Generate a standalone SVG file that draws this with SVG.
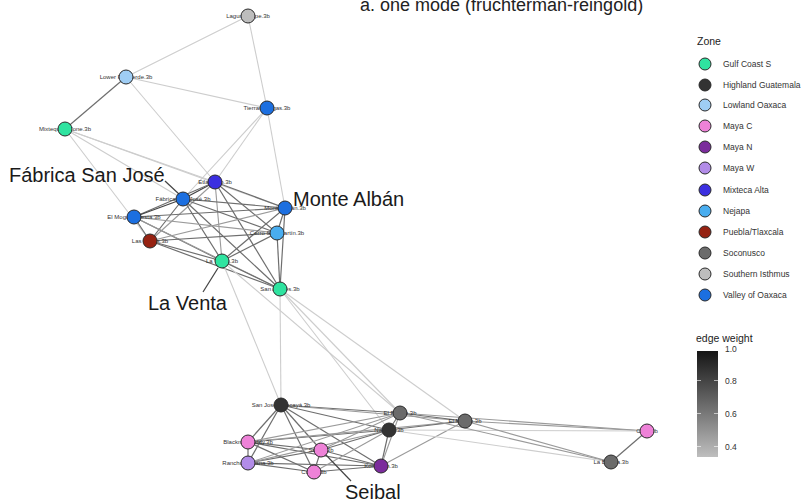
<svg xmlns="http://www.w3.org/2000/svg" width="806" height="504" viewBox="0 0 806 504">
<style>
  text { font-family: "Liberation Sans", Arial, sans-serif; fill: #222; }
  .title { font-size: 18px; }
  .call { font-size: 20px; fill: #1a1a1a; }
  .nl { font-size: 6px; text-anchor: middle; fill: #333; }
  .lt { font-size: 8.5px; fill: #333; }
  .lh { font-size: 10.5px; fill: #222; }
  .e1 { stroke: #cdcdcd; stroke-width: 1.1; }
  .e2 { stroke: #9a9a9a; stroke-width: 1.1; }
  .e3 { stroke: #6e6e6e; stroke-width: 1.2; }
  .e4 { stroke: #444; stroke-width: 1.3; }
  .cl { stroke: #444; stroke-width: 1.2; }
  .nd { stroke: #2a2a2a; stroke-width: 1; }
  .gc { fill: #2fe3a0; } .hg { fill: #333333; } .lo { fill: #9fcdf4; }
  .mc { fill: #ee82d8; } .mn { fill: #7b2c9c; } .mw { fill: #b28ce8; }
  .mx { fill: #3b2fe0; } .nj { fill: #49adef; } .pt { fill: #962212; }
  .so { fill: #6b6b6b; } .si { fill: #bdbdbd; } .vo { fill: #1c6fe0; }
</style>
<defs>
  <linearGradient id="wgrad" x1="0" y1="0" x2="0" y2="1">
    <stop offset="0" stop-color="#151515"/>
    <stop offset="1" stop-color="#bebebe"/>
  </linearGradient>
</defs>
<rect width="806" height="504" fill="#ffffff"/>

<text class="title" x="360" y="11">a. one mode (fruchterman-reingold)</text>

<!-- connectors -->
<g id="edges" fill="none">
  <!-- upper, weak ties -->
  <line class="e1" x1="248" y1="16" x2="126" y2="77"/>
  <line class="e1" x1="248" y1="16" x2="267" y2="108"/>
  <line class="e1" x1="126" y1="77" x2="267" y2="108"/>
  <line class="e3" x1="126" y1="77" x2="65" y2="129"/>
  <line class="e1" x1="126" y1="77" x2="215" y2="182"/>
  <line class="e1" x1="65" y1="129" x2="215" y2="182"/>
  <line class="e1" x1="65" y1="129" x2="285" y2="208"/>
  <line class="e1" x1="65" y1="129" x2="183" y2="199"/>
  <line class="e1" x1="65" y1="129" x2="150" y2="241"/>
  <line class="e1" x1="267" y1="108" x2="215" y2="182"/>
  <line class="e1" x1="267" y1="108" x2="183" y2="199"/>
  <line class="e1" x1="267" y1="108" x2="285" y2="208"/>
  <!-- Oaxaca / Gulf core -->
  <line class="e4" x1="215" y1="182" x2="183" y2="199"/>
  <line class="e3" x1="215" y1="182" x2="134" y2="217"/>
  <line class="e3" x1="215" y1="182" x2="285" y2="208"/>
  <line class="e3" x1="215" y1="182" x2="277" y2="233"/>
  <line class="e2" x1="215" y1="182" x2="222" y2="261"/>
  <line class="e3" x1="215" y1="182" x2="280" y2="289"/>
  <line class="e2" x1="215" y1="182" x2="150" y2="241"/>
  <line class="e4" x1="183" y1="199" x2="134" y2="217"/>
  <line class="e3" x1="183" y1="199" x2="285" y2="208"/>
  <line class="e3" x1="183" y1="199" x2="277" y2="233"/>
  <line class="e3" x1="183" y1="199" x2="222" y2="261"/>
  <line class="e3" x1="183" y1="199" x2="280" y2="289"/>
  <line class="e3" x1="183" y1="199" x2="150" y2="241"/>
  <line class="e3" x1="134" y1="217" x2="150" y2="241"/>
  <line class="e3" x1="134" y1="217" x2="285" y2="208"/>
  <line class="e2" x1="134" y1="217" x2="277" y2="233"/>
  <line class="e3" x1="134" y1="217" x2="222" y2="261"/>
  <line class="e2" x1="134" y1="217" x2="280" y2="289"/>
  <line class="e3" x1="150" y1="241" x2="222" y2="261"/>
  <line class="e3" x1="150" y1="241" x2="280" y2="289"/>
  <line class="e3" x1="150" y1="241" x2="277" y2="233"/>
  <line class="e2" x1="150" y1="241" x2="285" y2="208"/>
  <line class="e3" x1="285" y1="208" x2="277" y2="233"/>
  <line class="e3" x1="285" y1="208" x2="222" y2="261"/>
  <line class="e3" x1="285" y1="208" x2="280" y2="289"/>
  <line class="e3" x1="277" y1="233" x2="222" y2="261"/>
  <line class="e3" x1="277" y1="233" x2="280" y2="289"/>
  <line class="e3" x1="222" y1="261" x2="280" y2="289"/>
  <!-- bridges -->
  <line class="e1" x1="222" y1="261" x2="281" y2="405"/>
  <line class="e1" x1="280" y1="289" x2="281" y2="405"/>
  <line class="e1" x1="280" y1="289" x2="400" y2="413"/>
  <line class="e1" x1="280" y1="289" x2="465" y2="421"/>
  <line class="e1" x1="280" y1="289" x2="389" y2="430"/>
  <line class="e1" x1="222" y1="261" x2="400" y2="413"/>
  <!-- Maya / Guatemala core -->
  <line class="e3" x1="281" y1="405" x2="248" y2="442"/>
  <line class="e3" x1="281" y1="405" x2="248" y2="463"/>
  <line class="e3" x1="281" y1="405" x2="321" y2="450"/>
  <line class="e3" x1="281" y1="405" x2="314" y2="472"/>
  <line class="e3" x1="281" y1="405" x2="381" y2="466"/>
  <line class="e3" x1="281" y1="405" x2="400" y2="413"/>
  <line class="e3" x1="281" y1="405" x2="389" y2="430"/>
  <line class="e2" x1="281" y1="405" x2="465" y2="421"/>
  <line class="e3" x1="248" y1="442" x2="248" y2="463"/>
  <line class="e3" x1="248" y1="442" x2="321" y2="450"/>
  <line class="e3" x1="248" y1="442" x2="314" y2="472"/>
  <line class="e3" x1="248" y1="442" x2="381" y2="466"/>
  <line class="e2" x1="248" y1="442" x2="400" y2="413"/>
  <line class="e3" x1="248" y1="442" x2="389" y2="430"/>
  <line class="e2" x1="248" y1="442" x2="465" y2="421"/>
  <line class="e3" x1="248" y1="463" x2="321" y2="450"/>
  <line class="e3" x1="248" y1="463" x2="314" y2="472"/>
  <line class="e3" x1="248" y1="463" x2="381" y2="466"/>
  <line class="e2" x1="248" y1="463" x2="389" y2="430"/>
  <line class="e2" x1="248" y1="463" x2="400" y2="413"/>
  <line class="e3" x1="321" y1="450" x2="314" y2="472"/>
  <line class="e3" x1="321" y1="450" x2="381" y2="466"/>
  <line class="e3" x1="321" y1="450" x2="389" y2="430"/>
  <line class="e2" x1="321" y1="450" x2="400" y2="413"/>
  <line class="e3" x1="314" y1="472" x2="381" y2="466"/>
  <line class="e2" x1="314" y1="472" x2="389" y2="430"/>
  <line class="e3" x1="381" y1="466" x2="389" y2="430"/>
  <line class="e2" x1="381" y1="466" x2="400" y2="413"/>
  <line class="e2" x1="381" y1="466" x2="465" y2="421"/>
  <line class="e3" x1="400" y1="413" x2="389" y2="430"/>
  <line class="e3" x1="400" y1="413" x2="465" y2="421"/>
  <line class="e3" x1="389" y1="430" x2="465" y2="421"/>
  <line class="e2" x1="400" y1="413" x2="647" y2="431"/>
  <line class="e2" x1="465" y1="421" x2="647" y2="431"/>
  <line class="e1" x1="389" y1="430" x2="647" y2="431"/>
  <line class="e2" x1="400" y1="413" x2="611" y2="462"/>
  <line class="e2" x1="465" y1="421" x2="611" y2="462"/>
  <line class="e1" x1="389" y1="430" x2="611" y2="462"/>
  <line class="e3" x1="647" y1="431" x2="611" y2="462"/>
</g>

<!-- callout leaders -->
<g id="callouts">
  <line class="cl" x1="165" y1="181" x2="180" y2="195"/>
  <line class="cl" x1="203" y1="292" x2="218" y2="268"/>
  <line class="cl" x1="351" y1="481" x2="326" y2="455"/>
  <text class="call" x="9" y="182">Fábrica San José</text>
  <text class="call" x="293" y="206">Monte Albán</text>
  <text class="call" x="148" y="310">La Venta</text>
  <text class="call" x="345" y="499">Seibal</text>
</g>

<!-- nodes -->
<g id="n-laguna-zope"><text class="nl" x="248" y="18">Laguna Zope.3b</text><circle class="nd si" cx="248" cy="16" r="7"/></g>
<g id="n-lower-rio-verde"><text class="nl" x="126" y="79">Lower Rio Verde.3b</text><circle class="nd lo" cx="126" cy="77" r="7"/></g>
<g id="n-tierras-largas"><text class="nl" x="267" y="110">Tierras Largas.3b</text><circle class="nd vo" cx="267" cy="108" r="7"/></g>
<g id="n-mixtequilla"><text class="nl" x="65" y="131">Mixtequilla Zone.3b</text><circle class="nd gc" cx="65" cy="129" r="7"/></g>
<g id="n-etlatongo"><text class="nl" x="215" y="184">Etlatongo.3b</text><circle class="nd mx" cx="215" cy="182" r="7"/></g>
<g id="n-fabrica"><text class="nl" x="183" y="201">Fábrica San José.3b</text><circle class="nd vo" cx="183" cy="199" r="7"/></g>
<g id="n-el-mogote"><text class="nl" x="134" y="219">El Mogote/Fiesta.3b</text><circle class="nd vo" cx="134" cy="217" r="7"/></g>
<g id="n-las-bocas"><text class="nl" x="150" y="243">Las Bocas.3b</text><circle class="nd pt" cx="150" cy="241" r="7"/></g>
<g id="n-monte-alban"><text class="nl" x="285" y="210">Monte Albán.3b</text><circle class="nd vo" cx="285" cy="208" r="7"/></g>
<g id="n-cerro-san-martin"><text class="nl" x="277" y="235">Cerro San Martín.3b</text><circle class="nd nj" cx="277" cy="233" r="7"/></g>
<g id="n-la-venta"><text class="nl" x="222" y="263">La Venta.3b</text><circle class="nd gc" cx="222" cy="261" r="7"/></g>
<g id="n-san-andres"><text class="nl" x="280" y="291">San Andrés.3b</text><circle class="nd gc" cx="280" cy="289" r="7"/></g>
<g id="n-san-jose"><text class="nl" x="281" y="407">San José Chacayá.3b</text><circle class="nd hg" cx="281" cy="405" r="7"/></g>
<g id="n-el-porton"><text class="nl" x="400" y="415">El Portón.3b</text><circle class="nd so" cx="400" cy="413" r="7"/></g>
<g id="n-naranjo"><text class="nl" x="389" y="432">Naranjo.3b</text><circle class="nd hg" cx="389" cy="430" r="7"/></g>
<g id="n-el-mesak"><text class="nl" x="465" y="423">El Mesak.3b</text><circle class="nd so" cx="465" cy="421" r="7"/></g>
<g id="n-cival"><text class="nl" x="647" y="433">Cival.3b</text><circle class="nd mc" cx="647" cy="431" r="7"/></g>
<g id="n-la-blanca"><text class="nl" x="611" y="464">La Blanca.3b</text><circle class="nd so" cx="611" cy="462" r="7"/></g>
<g id="n-blackman-eddy"><text class="nl" x="248" y="444">Blackman Eddy.3b</text><circle class="nd mc" cx="248" cy="442" r="7"/></g>
<g id="n-rancho"><text class="nl" x="248" y="465">Rancho Sabana.3b</text><circle class="nd mw" cx="248" cy="463" r="7"/></g>
<g id="n-seibal"><text class="nl" x="321" y="452">Seibal.3b</text><circle class="nd mc" cx="321" cy="450" r="7"/></g>
<g id="n-cuello"><text class="nl" x="314" y="474">Cuello.3b</text><circle class="nd mc" cx="314" cy="472" r="7"/></g>
<g id="n-komchen"><text class="nl" x="381" y="468">Komchen.3b</text><circle class="nd mn" cx="381" cy="466" r="7"/></g>

<!-- zone legend -->
<g id="legend-zone">
  <text class="lh" x="697" y="45">Zone</text>
  <circle class="nd gc" cx="705" cy="64" r="6"/><text class="lt" x="723" y="67">Gulf Coast S</text>
  <circle class="nd hg" cx="705" cy="85" r="6"/><text class="lt" x="723" y="88">Highland Guatemala</text>
  <circle class="nd lo" cx="705" cy="105" r="6"/><text class="lt" x="723" y="108">Lowland Oaxaca</text>
  <circle class="nd mc" cx="705" cy="126" r="6"/><text class="lt" x="723" y="129">Maya C</text>
  <circle class="nd mn" cx="705" cy="147" r="6"/><text class="lt" x="723" y="150">Maya N</text>
  <circle class="nd mw" cx="705" cy="168" r="6"/><text class="lt" x="723" y="171">Maya W</text>
  <circle class="nd mx" cx="705" cy="190" r="6"/><text class="lt" x="723" y="193">Mixteca Alta</text>
  <circle class="nd nj" cx="705" cy="211" r="6"/><text class="lt" x="723" y="214">Nejapa</text>
  <circle class="nd pt" cx="705" cy="232" r="6"/><text class="lt" x="723" y="235">Puebla/Tlaxcala</text>
  <circle class="nd so" cx="705" cy="253" r="6"/><text class="lt" x="723" y="256">Soconusco</text>
  <circle class="nd si" cx="705" cy="274" r="6"/><text class="lt" x="723" y="277">Southern Isthmus</text>
  <circle class="nd vo" cx="705" cy="295" r="6"/><text class="lt" x="723" y="298">Valley of Oaxaca</text>
</g>

<!-- edge weight legend -->
<g id="legend-weight">
  <text class="lh" x="696" y="342">edge weight</text>
  <rect x="697" y="351" width="21" height="106" fill="url(#wgrad)"/>
  <g stroke="#ffffff" stroke-opacity="0.6" stroke-width="1">
    <line x1="697" y1="349.5" x2="701" y2="349.5"/><line x1="714" y1="349.5" x2="718" y2="349.5"/>
    <line x1="697" y1="380.5" x2="701" y2="380.5"/><line x1="714" y1="380.5" x2="718" y2="380.5"/>
    <line x1="697" y1="413.5" x2="701" y2="413.5"/><line x1="714" y1="413.5" x2="718" y2="413.5"/>
    <line x1="697" y1="446.5" x2="701" y2="446.5"/><line x1="714" y1="446.5" x2="718" y2="446.5"/>
  </g>
  <text class="lt" x="725" y="352">1.0</text>
  <text class="lt" x="725" y="384">0.8</text>
  <text class="lt" x="725" y="417">0.6</text>
  <text class="lt" x="725" y="450">0.4</text>
</g>
</svg>
